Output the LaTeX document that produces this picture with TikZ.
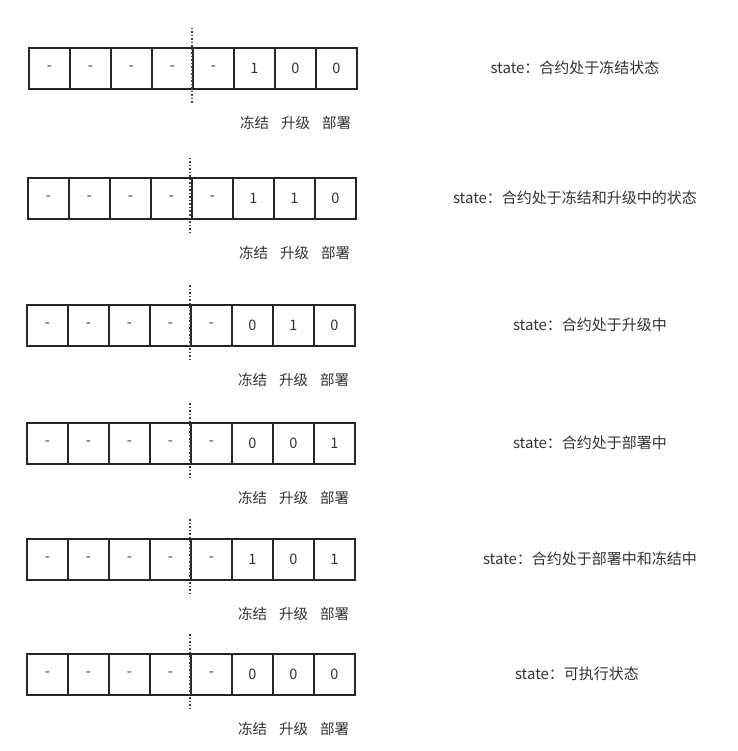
\documentclass[tikz,border=0pt]{standalone}
\usepackage{fontspec}
\setmainfont{Noto Sans CJK SC}
\newfontfamily\cjk{Noto Sans CJK SC}
\begin{document}
\begin{tikzpicture}[x=1pt,y=-1pt,
  cellbox/.style={draw=black!85,line width=1.3pt,outer sep=0pt,minimum width=41pt,minimum height=41pt,inner sep=0pt,anchor=north west,font=\fontsize{14.5}{16}\selectfont,text=black!80},
  sep/.style={draw=black!75,line width=1.2pt,dash pattern=on 1.5pt off 2pt},
  lab/.style={font=\fontsize{14.5}{16}\selectfont,text=black!80,inner sep=0pt},
  state/.style={font=\fontsize{15}{17}\selectfont,text=black!80,inner sep=0pt}]
\useasboundingbox (0,0) rectangle (737,751);
\foreach \r/\x/\t/\d/\a/\b/\c/\sx/\txt in {
  1/29/48/192/1/0/0/575/{state：合约处于冻结状态},
  2/28/178/190/1/1/0/575/{state：合约处于冻结和升级中的状态},
  3/27/305/190/0/1/0/590/{state：合约处于升级中},
  4/27/423/190/0/0/1/590/{state：合约处于部署中},
  5/27/539/190/1/0/1/590/{state：合约处于部署中和冻结中},
  6/27/654/190/0/0/0/577/{state：可执行状态}}{
  \node[cellbox] (c\r-1) at (\x,\t) {-};
  \node[cellbox] (c\r-2) at (c\r-1.north east) {-};
  \node[cellbox] (c\r-3) at (c\r-2.north east) {-};
  \node[cellbox] (c\r-4) at (c\r-3.north east) {-};
  \node[cellbox] (c\r-5) at (c\r-4.north east) {-};
  \node[cellbox] (c\r-6) at (c\r-5.north east) {\a};
  \node[cellbox] (c\r-7) at (c\r-6.north east) {\b};
  \node[cellbox] (c\r-8) at (c\r-7.north east) {\c};
  \coordinate (d\r-t) at (\d,\t-20);
  \coordinate (d\r-b) at (\d,\t+55);
  \draw[sep] (d\r-t) -- (d\r-b);
  \node[lab] (l\r-1) at ([yshift=-34pt]c\r-6.south) {冻结};
  \node[lab] (l\r-2) at ([yshift=-34pt]c\r-7.south) {升级};
  \node[lab] (l\r-3) at ([yshift=-34pt]c\r-8.south) {部署};
  \node[state] (s\r) at (\sx,\t+20) {\txt};
}
\end{tikzpicture}
\end{document}
